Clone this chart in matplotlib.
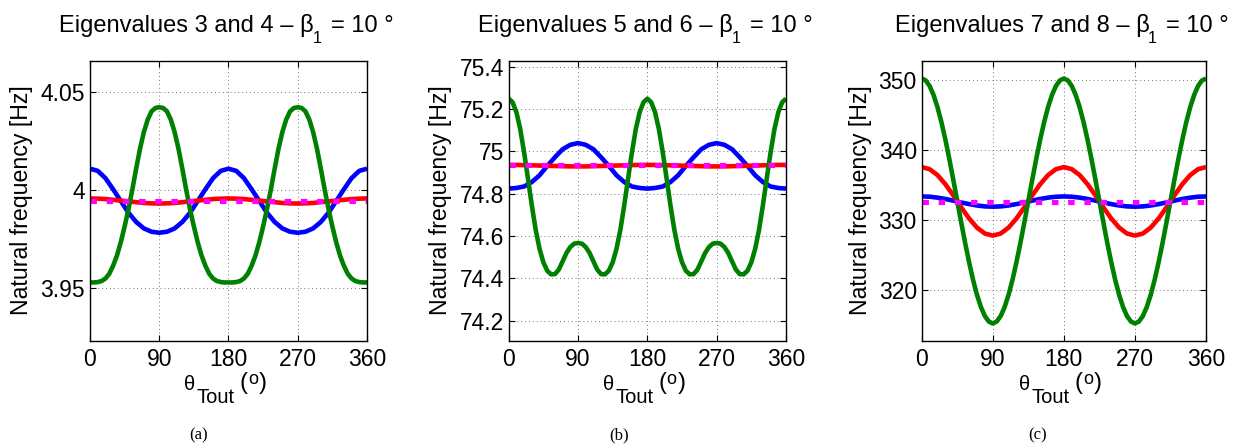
import numpy as np
import matplotlib.pyplot as plt

plt.rcParams['font.family'] = ['Liberation Sans', 'DejaVu Sans']

# Angulos de muestreo (grados)
theta_fino = np.arange(0, 361, 5)
theta = np.arange(0, 361, 10)
theta_mag = [0, 90, 180, 270, 360]

# ---- Panel (a): autovalores 3 y 4 ----
verde_a = [3.9529, 3.9529, 3.9531, 3.9536, 3.9549, 3.9573, 3.9614, 3.9666, 3.9734, 3.9815,
           3.9903, 4.0003, 4.0110, 4.0212, 4.0297, 4.0361, 4.0403, 4.0420, 4.0424,
           4.0420, 4.0403, 4.0361, 4.0297, 4.0212, 4.0110, 4.0003, 3.9903, 3.9815,
           3.9734, 3.9666, 3.9614, 3.9573, 3.9549, 3.9536, 3.9531, 3.9529, 3.9529,
           3.9529, 3.9531, 3.9536, 3.9549, 3.9573, 3.9614, 3.9666, 3.9734, 3.9815,
           3.9903, 4.0003, 4.0110, 4.0212, 4.0297, 4.0361, 4.0403, 4.0420, 4.0424,
           4.0420, 4.0403, 4.0361, 4.0297, 4.0212, 4.0110, 4.0003, 3.9903, 3.9815,
           3.9734, 3.9666, 3.9614, 3.9573, 3.9549, 3.9536, 3.9531, 3.9529, 3.9529]
azul_a = [4.0110, 4.0099, 4.0062, 4.0005, 3.9945, 3.9885, 3.9838, 3.9805, 3.9788, 3.9783,
          3.9788, 3.9805, 3.9838, 3.9885, 3.9945, 4.0005, 4.0062, 4.0099, 4.0110,
          4.0099, 4.0062, 4.0005, 3.9945, 3.9885, 3.9838, 3.9805, 3.9788, 3.9783,
          3.9788, 3.9805, 3.9838, 3.9885, 3.9945, 4.0005, 4.0062, 4.0099, 4.0110]
rojo_a = [3.9958, 3.9957, 3.9955, 3.9951, 3.9947, 3.9943, 3.9939, 3.9935, 3.9933, 3.9932,
          3.9933, 3.9935, 3.9939, 3.9943, 3.9947, 3.9951, 3.9955, 3.9957, 3.9958,
          3.9957, 3.9955, 3.9951, 3.9947, 3.9943, 3.9939, 3.9935, 3.9933, 3.9932,
          3.9933, 3.9935, 3.9939, 3.9943, 3.9947, 3.9951, 3.9955, 3.9957, 3.9958]
magenta_a = [3.9944, 3.9944, 3.9944, 3.9944, 3.9944]

# ---- Panel (b): autovalores 5 y 6 ----
verde_b = [75.249, 75.232, 75.185, 75.105, 74.995, 74.872, 74.745, 74.630, 74.540, 74.476,
           74.436, 74.419, 74.420, 74.441, 74.480, 74.520, 74.548, 74.564, 74.567,
           74.564, 74.548, 74.520, 74.480, 74.441, 74.420, 74.419, 74.436, 74.476,
           74.540, 74.630, 74.745, 74.872, 74.995, 75.105, 75.185, 75.232, 75.249,
           75.232, 75.185, 75.105, 74.995, 74.872, 74.745, 74.630, 74.540, 74.476,
           74.436, 74.419, 74.420, 74.441, 74.480, 74.520, 74.548, 74.564, 74.567,
           74.564, 74.548, 74.520, 74.480, 74.441, 74.420, 74.419, 74.436, 74.476,
           74.540, 74.630, 74.745, 74.872, 74.995, 75.105, 75.185, 75.232, 75.249]
azul_b = [74.824, 74.827, 74.834, 74.855, 74.887, 74.931, 74.972, 75.010, 75.031, 75.039,
          75.031, 75.010, 74.972, 74.931, 74.887, 74.855, 74.834, 74.827, 74.824,
          74.827, 74.834, 74.855, 74.887, 74.931, 74.972, 75.010, 75.031, 75.039,
          75.031, 75.010, 74.972, 74.931, 74.887, 74.855, 74.834, 74.827, 74.824]
rojo_b = [74.936, 74.936, 74.935, 74.934, 74.933, 74.932, 74.931, 74.930, 74.929, 74.929,
          74.929, 74.930, 74.931, 74.932, 74.933, 74.934, 74.935, 74.936, 74.936,
          74.936, 74.935, 74.934, 74.933, 74.932, 74.931, 74.930, 74.929, 74.929,
          74.929, 74.930, 74.931, 74.932, 74.933, 74.934, 74.935, 74.936, 74.936]
magenta_b = [74.935, 74.935, 74.935, 74.935, 74.935]

# ---- Panel (c): autovalores 7 y 8 ----
verde_c = [350.20, 349.94, 349.15, 347.86, 346.12, 343.97, 341.48, 338.72, 335.78, 332.75,
           329.72, 326.78, 324.03, 321.53, 319.38, 317.64, 316.35, 315.57, 315.30,
           315.57, 316.35, 317.64, 319.38, 321.53, 324.03, 326.78, 329.72, 332.75,
           335.78, 338.72, 341.48, 343.97, 346.12, 347.86, 349.15, 349.94, 350.20,
           349.94, 349.15, 347.86, 346.12, 343.97, 341.48, 338.72, 335.78, 332.75,
           329.72, 326.78, 324.03, 321.53, 319.38, 317.64, 316.35, 315.57, 315.30,
           315.57, 316.35, 317.64, 319.38, 321.53, 324.03, 326.78, 329.72, 332.75,
           335.78, 338.72, 341.48, 343.97, 346.12, 347.86, 349.15, 349.94, 350.20]
azul_c = [333.40, 333.36, 333.23, 333.04, 332.80, 332.54, 332.31, 332.11, 331.98, 331.94,
          331.98, 332.11, 332.31, 332.54, 332.80, 333.04, 333.23, 333.36, 333.40,
          333.36, 333.23, 333.04, 332.80, 332.54, 332.31, 332.11, 331.98, 331.94,
          331.98, 332.11, 332.31, 332.54, 332.80, 333.04, 333.23, 333.36, 333.40]
rojo_c = [337.58, 337.29, 336.44, 335.14, 333.55, 331.85, 330.26, 328.96, 328.11, 327.82,
          328.11, 328.96, 330.26, 331.85, 333.55, 335.14, 336.44, 337.29, 337.58,
          337.29, 336.44, 335.14, 333.55, 331.85, 330.26, 328.96, 328.11, 327.82,
          328.11, 328.96, 330.26, 331.85, 333.55, 335.14, 336.44, 337.29, 337.58]
magenta_c = [332.62, 332.62, 332.62, 332.62, 332.62]

# Textos y ejes
autovalores = ['3 and 4', '5 and 6', '7 and 8']
beta = '10'
letras = ['(a)', '(b)', '(c)']
xticks = [0, 90, 180, 270, 360]
yticks_a = [3.95, 4.0, 4.05]
ylabels_a = ['3.95', '4', '4.05']
yticks_b = [74.2, 74.4, 74.6, 74.8, 75.0, 75.2, 75.4]
ylabels_b = ['74.2', '74.4', '74.6', '74.8', '75', '75.2', '75.4']
yticks_c = [320, 330, 340, 350]
ylabels_c = ['320', '330', '340', '350']
ylim_a = (3.923, 4.066)
ylim_b = (74.104, 75.427)
ylim_c = (312.8, 352.7)

W, H = 1237, 445
fig = plt.figure(figsize=(W / 100, H / 100), dpi=100)
renderer = fig.canvas.get_renderer()


def texto_compuesto(xc, yb, partes):
    # partes: (texto, tamaño, desplazamiento vertical px, separacion px)
    objs = [fig.text(0, 0, p[0], fontsize=p[1], ha='left', va='baseline') for p in partes]
    anchos = [t.get_window_extent(renderer).width for t in objs]
    total = sum(anchos) + sum(p[3] for p in partes)
    x = xc - total / 2
    for t, w, p in zip(objs, anchos, partes):
        x += p[3]
        t.set_position((x / W, 1 - (yb + p[2]) / H))
        x += w


# posiciones en pixeles (izq, der)
bordes = [(90, 367), (508.7, 786), (921.7, 1206)]
x_ylabel = [21.5, 440, 860.5]
x_letras = [199, 619, 1038]
paneles = [
    (verde_a, azul_a, rojo_a, magenta_a, yticks_a, ylabels_a, ylim_a),
    (verde_b, azul_b, rojo_b, magenta_b, yticks_b, ylabels_b, ylim_b),
    (verde_c, azul_c, rojo_c, magenta_c, yticks_c, ylabels_c, ylim_c),
]

for i, (verde, azul, rojo, mag, yt, yl, ylim) in enumerate(paneles):
    izq, der = bordes[i]
    centro = (izq + der) / 2
    ax = fig.add_axes([izq / W, 1 - 341 / H, (der - izq) / W, 280 / H])

    ax.plot(theta, azul, color=(0, 0, 1), lw=3.3, solid_capstyle='butt')
    ax.plot(theta, rojo, color=(1, 0, 0), lw=3.3, solid_capstyle='butt')
    ax.plot(theta_fino, verde, color=(0, 0.5, 0), lw=3.3, solid_capstyle='butt')
    ax.plot(theta_mag, mag, color=(1, 0, 1), lw=3.7, dashes=(1.25, 1.9),
            dash_capstyle='butt')

    ax.set_xlim(0, 360)
    ax.set_ylim(*ylim)
    ax.set_xticks(xticks)
    ax.set_xticklabels([str(t) for t in xticks])
    ax.set_yticks(yt)
    ax.set_yticklabels(yl)
    ax.tick_params(direction='in', top=True, right=True, length=4, width=0.8,
                   labelsize=16.5)
    ax.tick_params(axis='x', pad=4.8)
    ax.tick_params(axis='y', pad=3.5)
    ax.grid(True, color='0.45', linestyle=(0, (1, 3)), lw=0.7)
    for s in ax.spines.values():
        s.set_linewidth(1.0)

    # Label del eje y
    fig.text(x_ylabel[i] / W, 1 - 200 / H, 'Natural frequency [Hz]', fontsize=16.7,
             rotation=90, ha='center', va='center')

    # Label del eje x: theta_Tout (o)
    texto_compuesto(centro - 3, 389.5, [('\u03b8', 14.5, 0, 0),
                                        ('Tout', 14.5, 13.5, 1),
                                        ('(', 17, 0, 5),
                                        ('o', 13, -5, 0.5),
                                        (')', 17, 0, 1)])

    # Titulo
    texto_compuesto(centro - 2, 31.7, [('Eigenvalues ' + autovalores[i] + ' \u2013 \u03b2', 17, 0, 0),
                                       ('1', 11.5, 11, -1.5),
                                       ('= ' + beta + ' \u00b0', 17, 0, 9.5)])

    fig.text(x_letras[i] / W, 1 - 435 / H, letras[i], family='Liberation Serif',
             fontsize=12, ha='center', va='center')

fig.savefig('out.png', dpi=100)
